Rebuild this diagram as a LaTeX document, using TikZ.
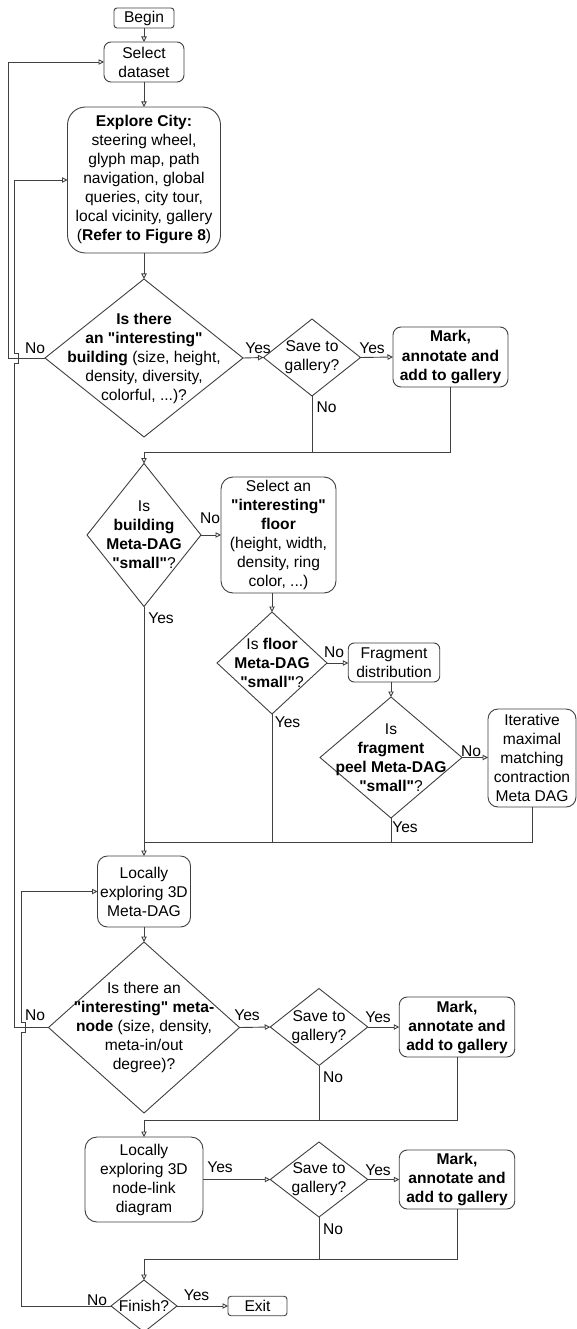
\documentclass[tikz,border=0pt]{standalone}
\usepackage{fontspec}
\setmainfont{Liberation Sans}[Ligatures=TeXOff]
\usetikzlibrary{shapes.geometric,arrows.meta}
\begin{document}
\begin{tikzpicture}[x=1pt,y=-1pt,
  every node/.style={font=\fontsize{15.6}{19}\selectfont, text=black},
  ln/.style={draw=black!75, line width=0.9pt},
  box/.style={ln, rectangle, inner sep=0pt, outer sep=0pt, align=center},
  dia/.style={ln, diamond, inner sep=0pt, outer sep=0pt},
  txt/.style={align=center, inner sep=0pt},
  lab/.style={inner sep=0pt},
  conn/.style={ln, -{Triangle[open,length=5.5pt,width=5.5pt]}}
]
\path[use as bounding box, fill=white] (0,0) rectangle (577,1329);

% boxes
\node[box, rounded corners=3, minimum width=60, minimum height=20] (begin) at (144,18) {Begin};
\node[box, rounded corners=7, minimum width=80, minimum height=40] (sel) at (144,62) {Select\\dataset};
\node[box, rounded corners=18, minimum width=153, minimum height=146] (explore) at (144,180) {\textbf{Explore City:}\\steering wheel,\\glyph map, path\\navigation, global\\queries, city tour,\\local vicinity, gallery\\(\textbf{Refer to Figure 8})};

% diamond 1
\node[dia, minimum width=198, minimum height=158] (d1) at (144,358) {};
\node[txt] at (d1) {\textbf{Is there}\\\textbf{an "interesting"}\\\textbf{building} (size, height,\\density, diversity,\\colorful, ...)?};
\node[dia, minimum width=97, minimum height=77] (s1) at (312,357.5) {};
\node[txt] at (s1) {Save to\\gallery?};
\node[box, rounded corners=8, minimum width=115, minimum height=60] (m1) at (450.5,357) {\textbf{Mark,}\\\textbf{annotate and}\\\textbf{add to gallery}};

% diamond 2
\node[dia, minimum width=114, minimum height=143] (d2) at (144,535) {};
\node[txt] at (d2) {Is\\\textbf{building}\\\textbf{Meta-DAG}\\\textbf{"small"}?};
\node[box, rounded corners=12, minimum width=115, minimum height=116] (floor) at (278.5,535) {Select an\\\textbf{"interesting"}\\\textbf{floor}\\(height, width,\\density, ring\\color, ...)};

% diamond 3
\node[dia, minimum width=110, minimum height=102] (d3) at (272,663) {};
\node[txt] at (d3) {Is \textbf{floor}\\\textbf{Meta-DAG}\\\textbf{"small"}?};
\node[box, rounded corners=6, minimum width=91.5, minimum height=39] (frag) at (394,662.5) {Fragment\\distribution};

% diamond 4
\node[dia, minimum width=142, minimum height=121] (d4) at (391,757.5) {};
\node[txt] at (d4) {Is\\\textbf{fragment}\\\textbf{peel Meta-DAG}\\\textbf{"small"}?};
\node[box, rounded corners=10, minimum width=88, minimum height=98] (iter) at (532,758) {Iterative\\maximal\\matching\\contraction\\Meta DAG};

% local meta-DAG
\node[box, rounded corners=10, minimum width=93, minimum height=71] (md) at (144,891.5) {Locally\\exploring 3D\\Meta-DAG};

% diamond 5
\node[dia, minimum width=191, minimum height=171] (d5) at (144,1027.5) {};
\node[txt] at (d5) {Is there an\\\textbf{"interesting" meta-}\\\textbf{node} (size, density,\\meta-in/out\\degree)?};
\node[dia, minimum width=97.5, minimum height=77] (s2) at (319,1027) {};
\node[txt] at (s2) {Save to\\gallery?};
\node[box, rounded corners=8, minimum width=115.5, minimum height=60] (m2) at (457,1027) {\textbf{Mark,}\\\textbf{annotate and}\\\textbf{add to gallery}};

% node-link
\node[box, rounded corners=12, minimum width=118, minimum height=85] (nl) at (144,1179.5) {Locally\\exploring 3D\\node-link\\diagram};
\node[dia, minimum width=97.5, minimum height=75] (s3) at (319,1179.5) {};
\node[txt] at (s3) {Save to\\gallery?};
\node[box, rounded corners=8, minimum width=115.5, minimum height=59] (m3) at (457,1179.5) {\textbf{Mark,}\\\textbf{annotate and}\\\textbf{add to gallery}};

% finish
\node[dia, minimum width=66, minimum height=52] (fin) at (144,1306) {};
\node[txt] at (fin) {Finish?};
\node[box, rounded corners=3, minimum width=59, minimum height=19.5] (exit) at (257.5,1306) {Exit};

% merge points
\coordinate (j1) at (144,452);
\coordinate (j2) at (144,842);
\coordinate (j3) at (144,1120);
\coordinate (j4) at (144,1259);

% straight connectors
\draw[conn] (begin.south) -- (sel.north);
\draw[conn] (sel.south) -- (explore.north);
\draw[conn] (explore.south) -- (d1.north);
\draw[conn] (d1.east) -- (s1.west);
\draw[conn] (s1.east) -- (m1.west);
\draw[ln] (s1.south) -- (s1.south |- j1);
\draw[ln] (m1.south) |- (j1);
\draw[conn] (j1) -- (d2.north);
\draw[conn] (d2.east) -- (floor.west);
\draw[conn] (floor.south -| d3.north) -- (d3.north);
\draw[conn] (d3.east) -- (d3.east -| frag.west);
\draw[conn] (frag.south -| d4.north) -- (d4.north);
\draw[conn] (d4.east) -- (d4.east -| iter.west);
\draw[conn] (d2.south) -- (md.north);
\draw[ln] (d3.south) -- (d3.south |- j2);
\draw[ln] (d4.south) -- (d4.south |- j2);
\draw[ln] (iter.south) |- (j2);
\draw[conn] (md.south) -- (d5.north);
\draw[conn] (d5.east) -- (s2.west);
\draw[conn] (s2.east) -- (m2.west);
\draw[ln] (s2.south) -- (s2.south |- j3);
\draw[ln] (m2.south) |- (j3);
\draw[conn] (j3) -- (nl.north);
\draw[conn] (nl.east) -- (s3.west);
\draw[conn] (s3.east) -- (m3.west);
\draw[ln] (s3.south) -- (s3.south |- j4);
\draw[ln] (m3.south) |- (j4);
\draw[conn] (j4) -- (fin.north);
\draw[conn] (fin.east) -- (exit.west);

% loops
\draw[conn] (d1.west) -- (8,358) |- (sel.west);
\draw[conn] (d5.west) -- (14,1027.5) -- (14,363) -- (18,363) -- (18,353) -- (14,353) |- (explore.west);
\draw[conn] (fin.west) -- (21,1306) -- (21,1032.5) -- (25,1032.5) -- (25,1022.5) -- (21,1022.5) |- (md.west);

% labels
\node[lab] at (35,348) {No};
\node[lab] at (258,348) {Yes};
\node[lab] at (372,348) {Yes};
\node[lab] at (326.5,407) {No};
\node[lab] at (210,518) {No};
\node[lab] at (161,618) {Yes};
\node[lab] at (334,652) {No};
\node[lab] at (287.5,722) {Yes};
\node[lab] at (471,751) {No};
\node[lab] at (405,827) {Yes};
\node[lab] at (35,1015) {No};
\node[lab] at (247,1015) {Yes};
\node[lab] at (378,1017) {Yes};
\node[lab] at (333,1077) {No};
\node[lab] at (220,1167) {Yes};
\node[lab] at (378,1170) {Yes};
\node[lab] at (333,1229) {No};
\node[lab] at (97,1300) {No};
\node[lab] at (196.5,1295) {Yes};
\end{tikzpicture}
\end{document}
